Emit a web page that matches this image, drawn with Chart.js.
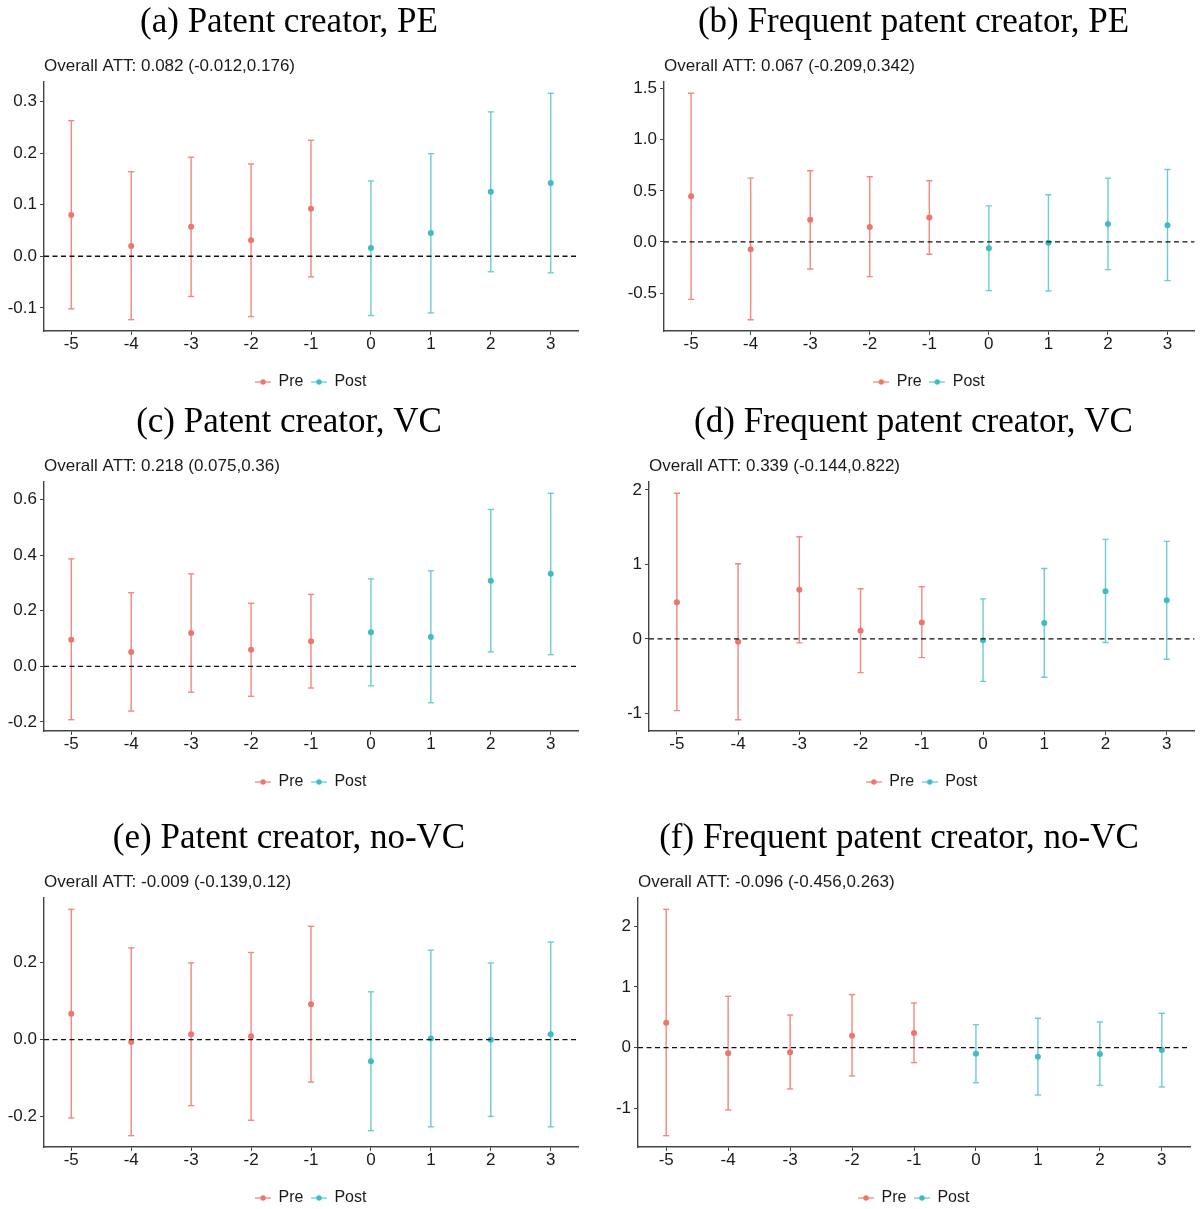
<!DOCTYPE html>
<html lang="en">
<head>
<meta charset="UTF-8" />
<title>Event study estimates</title>
<script src="https://cdn.jsdelivr.net/npm/chart.js"></script>
<style>
  html, body { margin: 0; padding: 0; background: #fff; overflow: hidden; }
  #wrap { position: relative; width: 1200px; height: 1209px; }
  #wrap canvas { position: absolute; }
</style>
</head>
<body>
<div id="wrap">
  <canvas id="panelA"></canvas>
  <canvas id="panelB"></canvas>
  <canvas id="panelC"></canvas>
  <canvas id="panelD"></canvas>
  <canvas id="panelE"></canvas>
  <canvas id="panelF"></canvas>
</div>

<script>
// event time relative to treatment; negative = Pre, 0 and up = Post
const eventTime = [-5, -4, -3, -2, -1, 0, 1, 2, 3];

// (a) Patent creator, PE
const attA  = [0.080, 0.020, 0.057, 0.031, 0.092, 0.016, 0.045, 0.125, 0.142];
const lowA  = [-0.102, -0.123, -0.078, -0.117, -0.040, -0.115, -0.110, -0.030, -0.032];
const highA = [0.263, 0.164, 0.192, 0.179, 0.225, 0.146, 0.199, 0.280, 0.316];

// (b) Frequent patent creator, PE
const attB  = [0.448, -0.072, 0.216, 0.147, 0.239, -0.062, -0.007, 0.176, 0.163];
const lowB  = [-0.562, -0.761, -0.265, -0.340, -0.121, -0.477, -0.480, -0.271, -0.379];
const highB = [1.454, 0.624, 0.696, 0.637, 0.598, 0.353, 0.461, 0.624, 0.709];

// (c) Patent creator, VC
const attC  = [0.096, 0.052, 0.120, 0.060, 0.090, 0.123, 0.106, 0.308, 0.333];
const lowC  = [-0.192, -0.161, -0.093, -0.108, -0.078, -0.070, -0.131, 0.052, 0.042];
const highC = [0.387, 0.265, 0.333, 0.227, 0.259, 0.315, 0.344, 0.565, 0.623];

// (d) Frequent patent creator, VC
const attD  = [0.493, -0.040, 0.659, 0.108, 0.220, -0.018, 0.215, 0.641, 0.520];
const lowD  = [-0.964, -1.085, -0.054, -0.453, -0.251, -0.570, -0.516, -0.049, -0.274];
const highD = [1.955, 1.009, 1.372, 0.673, 0.700, 0.538, 0.946, 1.336, 1.309];

// (e) Patent creator, no-VC
const attE  = [0.067, -0.006, 0.014, 0.009, 0.092, -0.056, 0.003, 0.000, 0.014];
const lowE  = [-0.203, -0.249, -0.171, -0.209, -0.110, -0.236, -0.226, -0.199, -0.226];
const highE = [0.338, 0.238, 0.199, 0.226, 0.294, 0.124, 0.232, 0.199, 0.253];

// (f) Frequent patent creator, no-VC
const attF  = [0.412, -0.093, -0.077, 0.198, 0.242, -0.099, -0.148, -0.104, -0.038];
const lowF  = [-1.451, -1.027, -0.681, -0.467, -0.247, -0.577, -0.780, -0.621, -0.648];
const highF = [2.280, 0.846, 0.538, 0.874, 0.736, 0.379, 0.484, 0.423, 0.566];

// y tick labels per panel
const yTicksA = ['-0.1', '0.0', '0.1', '0.2', '0.3'];
const yTicksB = ['-0.5', '0.0', '0.5', '1.0', '1.5'];
const yTicksC = ['-0.2', '0.0', '0.2', '0.4', '0.6'];
const yTicksD = ['-1', '0', '1', '2'];
const yTicksE = ['-0.2', '0.0', '0.2'];
const yTicksF = ['-1', '0', '1', '2'];

const titles = [
  '(a) Patent creator, PE',
  '(b) Frequent patent creator, PE',
  '(c) Patent creator, VC',
  '(d) Frequent patent creator, VC',
  '(e) Patent creator, no-VC',
  '(f) Frequent patent creator, no-VC'
];
const subtitles = [
  'Overall ATT: 0.082 (-0.012,0.176)',
  'Overall ATT: 0.067 (-0.209,0.342)',
  'Overall ATT: 0.218 (0.075,0.36)',
  'Overall ATT: 0.339 (-0.144,0.822)',
  'Overall ATT: -0.009 (-0.139,0.12)',
  'Overall ATT: -0.096 (-0.456,0.263)'
];
const groupNames = ['Pre', 'Post'];

const sansFont = "'Liberation Sans', Arial, sans-serif";
const serifFont = "'Liberation Serif', 'Times New Roman', serif";
const axisColor = '#444';
const textColor = '#1a1a1a';
const lineColors = ['#F2887F', '#6ECCD0'];
const dotColors = ['#EC766C', '#3FBCC2'];

// ggplot style limits: errorbar width 0.1 plus 5% expansion
const xLo = eventTime[0] - 0.05, xHi = eventTime[eventTime.length - 1] + 0.05;
const xMin = xLo - (xHi - xLo) * 0.05;
const xMax = xHi + (xHi - xLo) * 0.05;

function legendIcon(line, dot) {
  const c = document.createElement('canvas');
  c.width = 16; c.height = 8;
  const g = c.getContext('2d');
  g.strokeStyle = line; g.lineWidth = 1.3;
  g.beginPath(); g.moveTo(0, 4); g.lineTo(16, 4); g.stroke();
  g.fillStyle = dot;
  g.beginPath(); g.arc(8, 4, 2.7, 0, Math.PI * 2); g.fill();
  return c;
}
const icons = [legendIcon(lineColors[0], dotColors[0]), legendIcon(lineColors[1], dotColors[1])];

function makePanel(id, att, low, high, yTicks, idx, box) {
  const canvas = document.getElementById(id);
  canvas.width = box.width;
  canvas.height = 400;
  canvas.style.left = box.left + 'px';
  canvas.style.top = box.top + 'px';

  const lo = Math.min(...low), hi = Math.max(...high);
  const yMin = lo - (hi - lo) * 0.05;
  const yMax = hi + (hi - lo) * 0.05;

  const datasets = [];
  [0, 1].forEach(gi => {
    const ids = eventTime.map((t, i) => i).filter(i => (gi === 0 ? eventTime[i] < 0 : eventTime[i] >= 0));
    datasets.push({
      label: groupNames[gi] + ' estimate',
      data: ids.map(i => ({ x: eventTime[i], y: att[i] })),
      pointStyle: 'circle',
      pointRadius: 3,
      pointBackgroundColor: dotColors[gi],
      pointBorderWidth: 0,
      order: 1
    });
    datasets.push({
      label: groupNames[gi] + ' caps',
      data: ids.flatMap(i => [{ x: eventTime[i], y: low[i] }, { x: eventTime[i], y: high[i] }]),
      pointStyle: 'line',
      pointRadius: 3.1,
      pointBorderColor: lineColors[gi],
      pointBorderWidth: 1.4,
      order: 2
    });
    datasets.push({
      label: groupNames[gi] + ' interval',
      data: ids.flatMap(i => [{ x: eventTime[i], y: low[i] }, { x: eventTime[i], y: high[i] }, { x: eventTime[i], y: null }]),
      showLine: true,
      spanGaps: false,
      borderColor: lineColors[gi],
      borderWidth: 1.4,
      pointRadius: 0,
      order: 3
    });
  });
  datasets.push({
    label: 'zero',
    data: [{ x: xMin, y: 0 }, { x: xMax, y: 0 }],
    showLine: true,
    borderColor: '#111',
    borderWidth: 1.3,
    borderDash: [5, 3.5],
    pointRadius: 0,
    order: 0
  });

  return new Chart(canvas, {
    type: 'scatter',
    data: { datasets: datasets },
    options: {
      responsive: false,
      animation: false,
      devicePixelRatio: 1,
      layout: { padding: { left: 0, right: box.padRight, top: 0, bottom: 0 } },
      scales: {
        x: {
          type: 'linear',
          min: xMin,
          max: xMax,
          afterFit: s => { s.height = 35; },
          afterBuildTicks: s => { s.ticks = eventTime.map(v => ({ value: v })); },
          grid: { display: true, drawOnChartArea: false, drawTicks: true, tickLength: 4, color: axisColor },
          border: { display: true, color: axisColor, width: 1.4 },
          ticks: {
            padding: 1, color: textColor, autoSkip: false, maxRotation: 0,
            font: { family: sansFont, size: 17, lineHeight: 1 },
            callback: v => String(v)
          }
        },
        y: {
          type: 'linear',
          min: yMin,
          max: yMax,
          afterFit: s => { s.width = box.yAxisWidth; },
          afterBuildTicks: s => { s.ticks = yTicks.map(t => ({ value: parseFloat(t) })); },
          grid: { display: true, drawOnChartArea: false, drawTicks: true, tickLength: 4, color: axisColor },
          border: { display: true, color: axisColor, width: 1.4 },
          ticks: {
            padding: 3, color: textColor,
            font: { family: sansFont, size: 17, lineHeight: 1 },
            callback: (v, i) => yTicks[i]
          }
        }
      },
      plugins: {
        tooltip: { enabled: false },
        title: {
          display: true,
          text: titles[idx],
          color: '#000',
          align: 'center',
          font: { family: serifFont, size: 35, weight: 'normal', lineHeight: 1.2 },
          padding: { top: 2, bottom: 4 }
        },
        subtitle: {
          display: true,
          text: subtitles[idx],
          color: textColor,
          align: 'start',
          fullSize: false,
          font: { family: sansFont, size: 17, weight: 'normal', lineHeight: 1.2 },
          padding: { top: 7.8, bottom: 5.8 }
        },
        legend: {
          display: true,
          position: 'bottom',
          align: 'center',
          fullSize: false,
          labels: {
            usePointStyle: true,
            pointStyleWidth: 15,
            padding: 8,
            color: textColor,
            font: { family: sansFont, size: 16 },
            generateLabels: () => groupNames.map((n, gi) => ({
              text: n,
              pointStyle: icons[gi],
              fillStyle: lineColors[gi],
              strokeStyle: lineColors[gi],
              lineWidth: 0,
              hidden: false,
              datasetIndex: gi * 3,
              fontColor: textColor
            }))
          }
        }
      }
    }
  });
}

makePanel('panelA', attA, lowA, highA, yTicksA, 0, { left: 0,   top: 0,   width: 588, yAxisWidth: 44, padRight: 10 });
makePanel('panelB', attB, lowB, highB, yTicksB, 1, { left: 628, top: 0,   width: 572, yAxisWidth: 36, padRight: 1 });
makePanel('panelC', attC, lowC, highC, yTicksC, 2, { left: 0,   top: 400, width: 588, yAxisWidth: 44, padRight: 10 });
makePanel('panelD', attD, lowD, highD, yTicksD, 3, { left: 628, top: 400, width: 572, yAxisWidth: 21, padRight: 1 });
makePanel('panelE', attE, lowE, highE, yTicksE, 4, { left: 0,   top: 816, width: 588, yAxisWidth: 44, padRight: 10 });
makePanel('panelF', attF, lowF, highF, yTicksF, 5, { left: 608, top: 816, width: 592, yAxisWidth: 30, padRight: 10 });
</script>
</body>
</html>
